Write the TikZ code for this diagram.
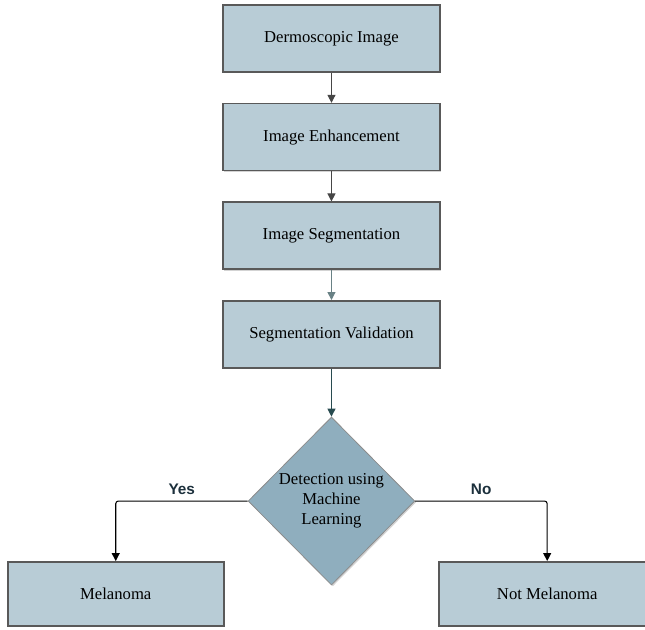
\documentclass[tikz,border=0pt]{standalone}
\usepackage{fontspec}
\setmainfont{Liberation Serif}
\newfontfamily\labelfont{Liberation Sans}
\usepackage{tikz}
\usetikzlibrary{arrows.meta,positioning,shapes.geometric,shadows}
\tikzset{
  >=Triangle,
  every node/.append style={font=\fontsize{12.5}{15}\selectfont},
}
\tikzset{
  box/.style={draw=black!65, line width=1.2pt, fill=stepblue, align=center,
    minimum width=162.75pt, minimum height=50.25pt, inner sep=3pt,
    drop shadow={opacity=0.35, shadow xshift=1pt, shadow yshift=-1pt}},
  decision/.style={diamond, draw=black!45, line width=0.6pt, fill=decblue, align=center,
    minimum width=125pt, minimum height=126pt, inner sep=0pt, aspect=1,
    drop shadow={opacity=0.35, shadow xshift=1pt, shadow yshift=-1pt}},
  arrow/.style={-{Triangle[length=6pt,width=6pt]}, line width=0.8pt},
  branch/.style={font=\labelfont\bfseries\fontsize{11.5}{13}\selectfont, text=labeltext}
}
\definecolor{stepblue}{RGB}{184,204,214}
\definecolor{decblue}{RGB}{143,174,190}
\definecolor{labeltext}{RGB}{28,48,60}
\definecolor{flowgray}{RGB}{70,70,70}
\definecolor{flowteal}{RGB}{40,75,80}

\begin{document}
\begin{tikzpicture}[node distance=22.5pt]

\useasboundingbox (0,0) rectangle (483.75pt,-471.75pt);

% --- main column ---
\node[box] (input) at (248.6pt,-28.9pt) {Dermoscopic Image};
\node[box, below=of input] (enhance) {Image Enhancement};
\node[box, below=of enhance] (segment) {Image Segmentation};
\node[box, below=of segment] (validate) {Segmentation Validation};

% --- decision ---
\node[decision, below=36pt of validate] (detect) {Detection using\\Machine\\Learning};

% --- outcomes ---
\node[box, minimum width=162pt, minimum height=48pt, below=45pt of detect.west, xshift=-99pt] (mel) {Melanoma};
\node[box, minimum width=162pt, minimum height=48pt, below=45pt of detect.east, xshift=99pt] (notmel) {Not Melanoma};

% --- arrows ---
\draw[arrow, flowgray] (input) -- (enhance);
\draw[arrow, flowgray] (enhance) -- (segment);
\draw[arrow, flowteal!70] (segment) -- (validate);
\draw[arrow, flowteal] (validate) -- (detect);
\draw[arrow, rounded corners=2pt] (detect.west) -| node[branch, pos=0.25, above=1pt] {Yes} (mel.north);
\draw[arrow, rounded corners=2pt] (detect.east) -| node[branch, pos=0.25, above=1pt] {No} (notmel.north);

\end{tikzpicture}
\end{document}
